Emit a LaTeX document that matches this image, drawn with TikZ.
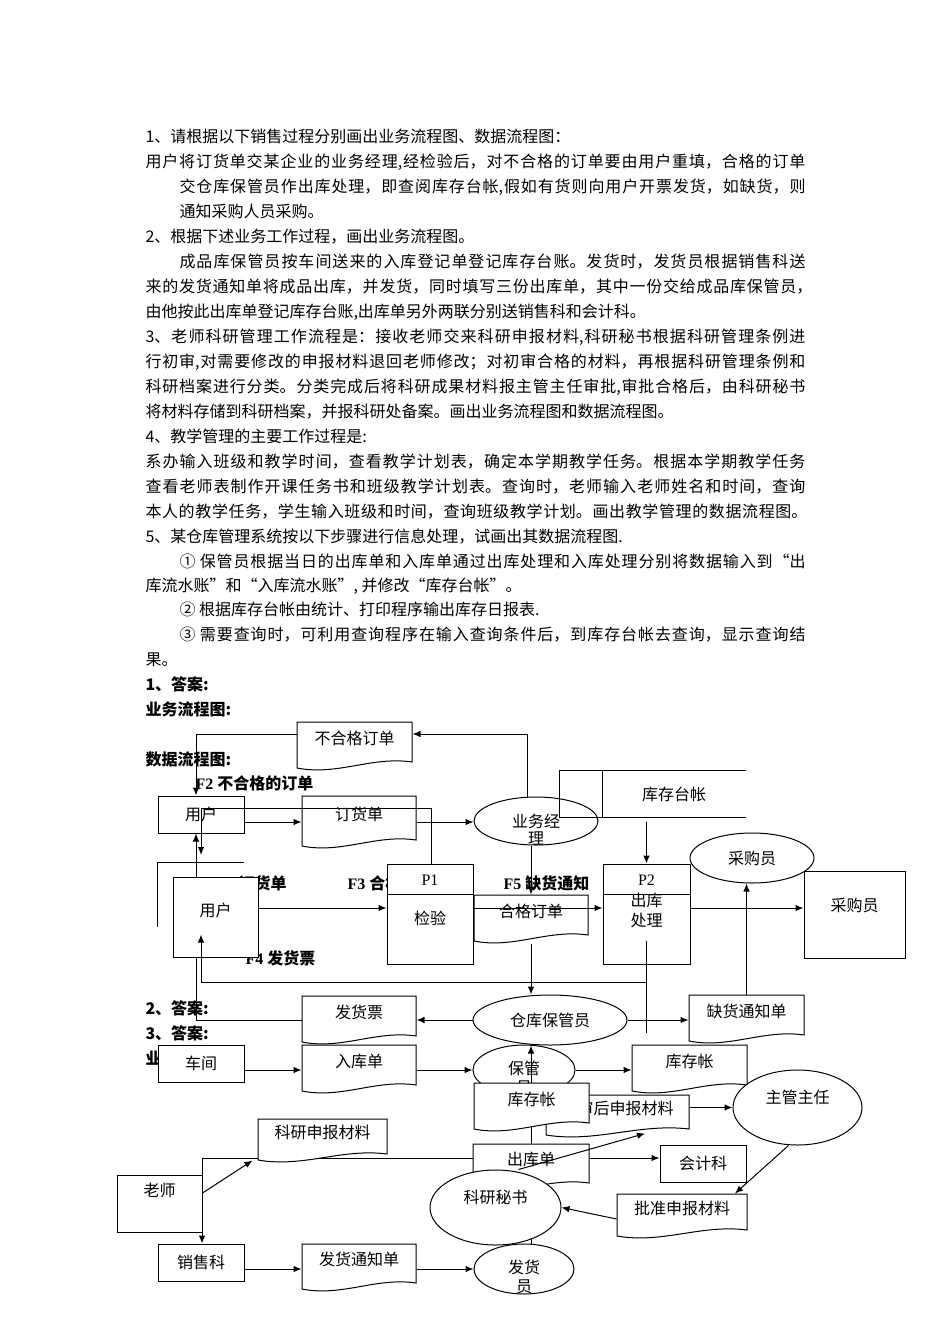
\documentclass[tikz,border=0pt]{standalone}
\usepackage{fontspec}
\setmainfont{Liberation Serif}
\newfontfamily\cjk{Noto Sans CJK SC}
\usetikzlibrary{shapes.geometric, arrows.meta}
\XeTeXlinebreaklocale "zh"
\XeTeXlinebreakskip=0pt plus 2pt
\setlength{\parindent}{0pt}
\tolerance=10000
% document shape: name, x1, y1, x2, y2, text
\newcommand{\docnode}[6]{%
  \filldraw[fill=white] (#2,#3) -- (#4,#3) -- (#4,#5)
    .. controls ({#4-0.35*(#4-#2)},{#5-6}) and ({#2+0.35*(#4-#2)},{#5+14}) .. (#2,{#5+6}) -- cycle;
  \node[docbox, minimum width={(#4-#2)*1pt}, minimum height={(#5-#3)*1pt}] (#1) at ({(#2+#4)/2},{(#3+#5)/2}) {#6};}
\begin{document}
\begin{tikzpicture}[x=1pt, y=-1pt, line width=1pt,
			flowarrow/.style={->, >={Latex[length=8pt,width=6.5pt]}, black},
			zh/.style={font=\fontsize{16}{20}\selectfont\cjk},
			zhb/.style={font=\fontsize{16}{20}\selectfont\cjk\bfseries},
			qline/.style={zh, anchor=base west, inner sep=0pt},
			qfull/.style={qline, text width=#1, align=justify},
			qhead/.style={zhb, anchor=base west, inner sep=0pt},
			entbox/.style={rectangle, draw, fill=white, zh, inner sep=0pt, text height=13pt, text depth=1pt},
			bubble/.style={ellipse, draw, fill=white, zh, inner sep=0pt},
			docbox/.style={rectangle, zh, inner sep=0pt, text height=13pt, text depth=9pt},
			pnum/.style={font=\fontsize{16}{20}\selectfont\rmfamily, inner sep=0pt},
			plain/.style={zh, inner sep=0pt}
			]
			\fill[white] (0,0) rectangle (950,1344);
			\useasboundingbox (0,0) rectangle (950,1344);
			% 题目
			\node[qline] (q1) at (145,142) {1、请根据以下销售过程分别画出业务流程图、数据流程图：};
			\node[qfull=660pt] (q2) at (145,167) {\parfillskip=0pt 用户将订货单交某企业的业务经理,经检验后，对不合格的订单要由用户重填，合格的订单\par};
			\node[qfull=626pt] (q3) at (179,192) {\parfillskip=0pt 交仓库保管员作出库处理，即查阅库存台帐,假如有货则向用户开票发货，如缺货，则\par};
			\node[qline] (q4) at (179,217) {通知采购人员采购。};
			\node[qline] (q5) at (145,242) {2、根据下述业务工作过程，画出业务流程图。};
			\node[qfull=626pt] (q6) at (179,267) {\parfillskip=0pt 成品库保管员按车间送来的入库登记单登记库存台账。发货时，发货员根据销售科送\par};
			\node[qfull=667pt] (q7) at (145,292) {\parfillskip=0pt 来的发货通知单将成品出库，并发货，同时填写三份出库单，其中一份交给成品库保管员，\par};
			\node[qline] (q8) at (145,317) {由他按此出库单登记库存台账,出库单另外两联分别送销售科和会计科。};
			\node[qfull=660pt] (q9) at (145,342) {\parfillskip=0pt 3、老师科研管理工作流程是：接收老师交来科研申报材料,科研秘书根据科研管理条例进\par};
			\node[qfull=660pt] (q10) at (145,367) {\parfillskip=0pt 行初审,对需要修改的申报材料退回老师修改；对初审合格的材料，再根据科研管理条例和\par};
			\node[qfull=660pt] (q11) at (145,392) {\parfillskip=0pt 科研档案进行分类。分类完成后将科研成果材料报主管主任审批,审批合格后，由科研秘书\par};
			\node[qline] (q12) at (145,417) {将材料存储到科研档案，并报科研处备案。画出业务流程图和数据流程图。};
			\node[qline] (q13) at (145,442) {4、教学管理的主要工作过程是:};
			\node[qfull=660pt] (q14) at (145,467) {\parfillskip=0pt 系办输入班级和教学时间，查看教学计划表，确定本学期教学任务。根据本学期教学任务\par};
			\node[qfull=660pt] (q15) at (145,492) {\parfillskip=0pt 查看老师表制作开课任务书和班级教学计划表。查询时，老师输入老师姓名和时间，查询\par};
			\node[qfull=662pt] (q16) at (145,517) {\parfillskip=0pt 本人的教学任务，学生输入班级和时间，查询班级教学计划。画出教学管理的数据流程图。\par};
			\node[qline] (q17) at (145,542) {5、某仓库管理系统按以下步骤进行信息处理，试画出其数据流程图.};
			\node[qfull=626pt] (q18) at (179,567) {\parfillskip=0pt ① 保管员根据当日的出库单和入库单通过出库处理和入库处理分别将数据输入到“出\par};
			\node[qline] (q19) at (145,591) {库流水账”和“入库流水账”, 并修改“库存台帐”。};
			\node[qline] (q20) at (179,615) {② 根据库存台帐由统计、打印程序输出库存日报表.};
			\node[qfull=626pt] (q21) at (179,640) {\parfillskip=0pt ③ 需要查询时，可利用查询程序在输入查询条件后，到库存台帐去查询，显示查询结\par};
			\node[qline] (q22) at (145,665) {果。};
			\node[qhead] (h1) at (145,690) {1、答案:};
			\node[qhead] (h2) at (145,715) {业务流程图:};
			\node[qhead] (h3) at (145,765) {数据流程图:};
			\node[qhead] (h4) at (145,1014) {2、答案:};
			\node[qhead] (h5) at (145,1039) {3、答案:};
			\node[qhead] (h6) at (145,1064) {业务流程图:};
			% 数据流标签 (partly covered)
			\node[zhb, anchor=base east, inner sep=0pt] (lblfa) at (287,889) {{\rmfamily F1 }订货单};
			\node[qhead] (lblfc) at (347,889) {{\rmfamily F3 }合格订单};
			\node[qhead] (lblfd) at (245,964) {{\rmfamily F4 }发货票};
			% 答案1
			\node[entbox, minimum width=86pt, minimum height=37pt] (user1) at (201,814.5) {用户};
			\docnode{badord}{297}{722}{412}{762}{不合格订单}
			\docnode{ordr}{302}{796}{416}{840}{订货单}
			\node[bubble, minimum width=124pt, minimum height=48pt] (mgr) at (536,821) {};
			\node[plain] (mgrta) at (536,821) {业务经};
			\node[plain] (mgrtb) at (536,839) {理};
			\node[bubble, minimum width=154pt, minimum height=50pt] (keeper) at (550,1020) {仓库保管员};
			\docnode{inv}{302}{996}{416}{1036}{发货票}
			\docnode{short}{689}{995}{804}{1035}{缺货通知单}
			\node[bubble, minimum width=124pt, minimum height=50pt] (buyer) at (752,858) {采购员};
			\draw[flowarrow] ([yshift=-4pt]inv.west) -| ([xshift=-5pt]user1.south);
			\draw[flowarrow] ([yshift=8pt]badord.west) -| ([xshift=-5pt]user1.north);
			\draw[flowarrow] ([xshift=-9pt]mgr.north) |- ([yshift=8pt]badord.east);
			\draw[flowarrow] ([yshift=-7.5pt]user1.east) -- ([yshift=-7.5pt]user1.east -| ordr.west);
			\draw[flowarrow] ([yshift=-4pt]ordr.east) -- ([yshift=-4pt]ordr.east -| mgr.west);
			\node[draw=none, zh, minimum width=142pt, minimum height=46pt] (store) at (674,794) {库存台帐};
			\draw (store.north east) -- ([xshift=-43pt]store.north west) -- ([xshift=-43pt]store.south west) -- (store.south east);
			\draw (store.north west) -- (store.south west);
			\node[entbox, minimum width=85pt, minimum height=80pt, text depth=15pt] (user2) at (215.5,917) {用户};
			\draw ([xshift=-15pt,yshift=-50pt]user2.north west) -- ([xshift=-15pt,yshift=14pt]user2.north west) -- ++(86,0);
			\node[entbox, minimum width=86pt, minimum height=100pt] (proc1) at (430,914) {};
			\node[entbox, minimum width=87pt, minimum height=100pt] (proc2) at (646.5,914) {};
			\draw ([yshift=-31pt]proc1.north west) -- ([yshift=-31pt]proc1.north east);
			\draw ([yshift=-31pt]proc2.north west) -- ([yshift=-31pt]proc2.north east);
			\node[pnum] (p1id) at (430,880) {P1};
			\node[plain] (p1nm) at (430,918) {检验};
			\node[pnum] (p2id) at (646.5,880) {P2};
			\node[plain] (p2nma) at (646.5,900) {出库};
			\node[plain] (p2nmb) at (646.5,920) {处理};
			\docnode{okord}{474}{895}{588}{935}{合格订单}
			\node[entbox, minimum width=101pt, minimum height=87pt, text depth=20pt] (buyerbox) at (854.5,914.5) {采购员};
			\node[qhead] (lblfb) at (195,789) {{\rmfamily F2 }不合格的订单};
			\node[qhead] (lblfe) at (503,889) {{\rmfamily F5 }缺货通知};
			\coordinate (f2end) at (201,855);
			\draw[flowarrow] ([xshift=1pt]proc1.north) |- ([yshift=6.5pt]user1.east -| f2end) -- (f2end);
			\draw[flowarrow] ([yshift=9pt]user2.east) -- ([yshift=9pt]user2.east -| proc1.west);
			\draw[flowarrow] ([yshift=6pt]proc1.east) -- ([yshift=6pt]proc1.east -| proc2.west);
			\draw[flowarrow] ([yshift=6pt]proc2.east) -- ([yshift=6pt]proc2.east -| buyerbox.west);
			\draw[flowarrow] ([yshift=-4pt]proc2.north |- store.south) -- (proc2.north);
			\draw[flowarrow] ([xshift=-5pt]mgr.south) -- ([xshift=-5pt]mgr.south |- okord.north);
			\draw[flowarrow] ([yshift=-8pt]okord.south) -- (okord.south |- keeper.north);
			\draw[flowarrow] (keeper.west) -- (keeper.west -| inv.east);
			\draw[flowarrow] (keeper.east) -- (keeper.east -| short.west);
			\draw[flowarrow] (short.north) -- (short.north |- buyer.south);
			\draw ([yshift=24pt]proc2.south) -- ([yshift=-68pt]proc2.south);
			\draw[flowarrow] ([yshift=-18pt]proc2.south) -| ([xshift=-14.5pt,yshift=23pt]user2.south);
			% 答案2/3
			\node[entbox, minimum width=86pt, minimum height=37pt] (shop) at (201,1063.5) {车间};
			\docnode{inrec}{302}{1045}{416}{1085}{入库单}
			\node[bubble, minimum width=102pt, minimum height=50pt] (clerk) at (524,1070) {};
			\node[plain] (clerkta) at (524,1068) {保管};
			\node[plain] (clerktb) at (524,1088) {员};
			\docnode{stk2}{632}{1045}{747}{1085}{库存帐}
			\docnode{rev}{546}{1095}{689}{1129}{初审后申报材料}
			\node[bubble, minimum width=100pt, minimum height=50pt] (shipper) at (524,1269) {};
			\node[entbox, minimum width=86pt, minimum height=37pt] (sales) at (201,1262.5) {销售科};
			\node[entbox, minimum width=85pt, minimum height=57pt, text depth=28pt] (teacher) at (159.5,1203.5) {老师};
			\draw[flowarrow] ([xshift=7pt]shipper.north) -- ([xshift=7pt]shipper.north |- keeper.south);
			\docnode{stk1}{474}{1083}{589}{1123}{库存帐}
			\docnode{outrec}{473}{1144}{589}{1183}{出库单}
			\draw[flowarrow] ([yshift=5.5pt]outrec.west) -| ([xshift=1pt]sales.north);
			\docnode{resm}{258}{1119}{387}{1154}{科研申报材料}
			\node[bubble, minimum width=131pt, minimum height=75pt] (sec) at (495.5,1207.5) {};
			\node[plain] (sect) at (495.5,1197) {科研秘书};
			\node[plain] (shipta) at (524,1267) {发货};
			\node[plain] (shiptb) at (524,1287) {员};
			\node[entbox, minimum width=86pt, minimum height=37pt] (acct) at (703,1163.5) {会计科};
			\node[bubble, minimum width=129pt, minimum height=75pt] (chief) at (797.5,1107.5) {};
			\node[plain] (chieft) at (797.5,1097) {主管主任};
			\docnode{appr}{617}{1194}{747}{1230}{批准申报材料}
			\docnode{note}{302}{1244}{416}{1283}{发货通知单}
			\draw[flowarrow] ([yshift=-6.5pt]shop.east) -- ([yshift=-6.5pt]shop.east -| inrec.west);
			\draw[flowarrow] (clerk.west -| inrec.east) -- (clerk.west);
			\draw[flowarrow] (clerk.east) -- (clerk.east -| stk2.west);
			\draw[flowarrow] (chief.west -| rev.east) -- (chief.west);
			\draw[flowarrow] ([xshift=-9pt]chief.south) -- ([xshift=53pt]appr.north);
			\draw[flowarrow] ([yshift=-7pt]appr.west) -- (sec.east);
			\draw[flowarrow] ([xshift=23pt]sec.north) -- ([xshift=27.5pt,yshift=-4pt]rev.south);
			\draw[flowarrow] ([yshift=5.5pt]outrec.east) -- ([yshift=5.5pt]outrec.east -| acct.west);
			\draw[flowarrow] ([yshift=10.5pt]teacher.east) -- ([xshift=-5pt,yshift=-6pt]resm.south west);
			\draw[flowarrow] ([yshift=-6.5pt]sales.east) -- ([yshift=-6.5pt]sales.east -| note.west);
			\draw[flowarrow] (shipper.west -| note.east) -- (shipper.west);
		\end{tikzpicture}
\end{document}
